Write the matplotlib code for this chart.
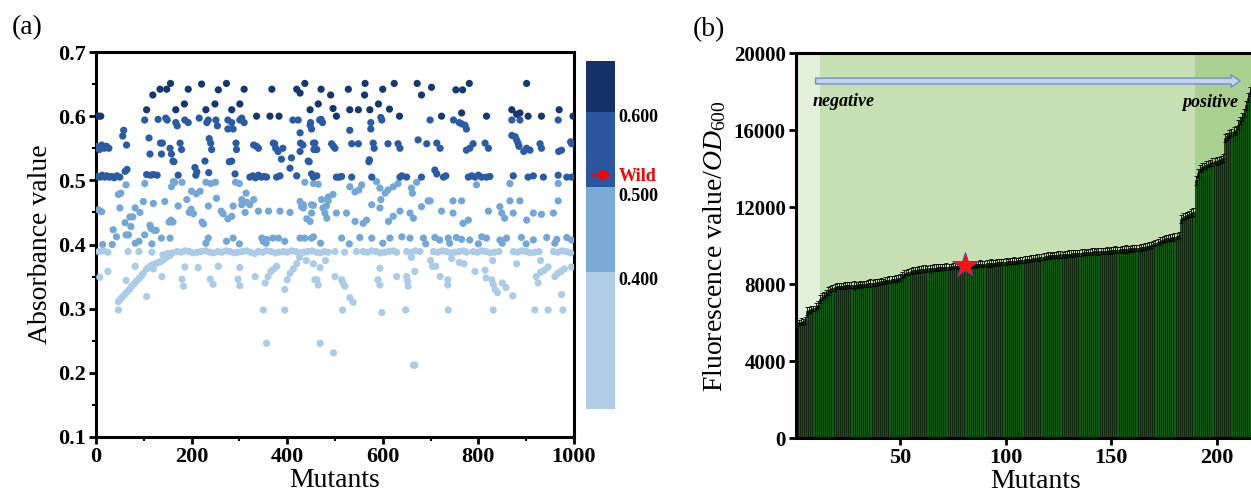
import matplotlib
matplotlib.use('Agg')
import matplotlib.pyplot as plt
from matplotlib.colors import ListedColormap, BoundaryNorm
from matplotlib.patches import FancyArrowPatch
from matplotlib.ticker import MultipleLocator

plt.rcParams['font.family'] = ['Liberation Serif', 'DejaVu Serif']
plt.rcParams['mathtext.fontset'] = 'custom'
plt.rcParams['mathtext.rm'] = 'Liberation Serif'
plt.rcParams['mathtext.it'] = 'Liberation Serif:italic'
plt.rcParams['mathtext.bf'] = 'Liberation Serif:bold'

# ---------------- Panel (a) data: (mutant index, absorbance) ----------------
dark_pts = [(5, .600), (10, .600), (106, .610), (119, .633), (134, .642), (148, .642), (156, .651),
            (167, .610), (185, .619), (193, .642), (221, .650), (230, .610), (249, .619), (256, .641),
            (273, .651), (284, .610), (301, .619), (310, .642), (336, .600), (364, .600), (368, .642),
            (383, .600), (420, .642), (437, .651), (427, .636), (448, .610), (465, .619), (471, .642),
            (491, .633), (496, .612), (503, .600), (528, .642), (531, .610), (549, .610), (563, .651),
            (562, .633), (573, .610), (591, .619), (600, .642), (614, .611), (624, .651), (635, .600),
            (672, .651), (681, .633), (702, .645), (723, .600), (753, .641), (767, .641), (781, .651),
            (765, .605), (817, .600), (870, .610), (880, .603), (887, .605), (901, .651), (904, .600),
            (932, .600), (969, .610), (998, .600)]

mid_pts = [(2, .553), (7, .548), (12, .555), (17, .550), (22, .553), (27, .550),
           (3, .506), (8, .505), (13, .508), (18, .505), (23, .507), (28, .505), (33, .506), (38, .504),
           (44, .507), (50, .505), (56, .569), (58, .578), (64, .555), (61, .514), (65, .517),
           (102, .594), (111, .566), (113, .541), (106, .509), (114, .508), (120, .509), (128, .508),
           (130, .595), (137, .541), (139, .558), (135, .558), (146, .597), (149, .594), (155, .550),
           (158, .541), (161, .530), (163, .529), (167, .590), (170, .585), (172, .508), (176, .558),
           (179, .548), (186, .594), (193, .590), (207, .520), (211, .513), (209, .508), (216, .597),
           (228, .530), (232, .590), (235, .594), (236, .512), (237, .565), (240, .558), (242, .548),
           (251, .594), (254, .585), (276, .594), (276, .580), (279, .529), (284, .530), (284, .590),
           (287, .580), (291, .510), (293, .558), (294, .548), (301, .594), (305, .597), (310, .590),
           (322, .505), (328, .507), (334, .504), (340, .508), (346, .505), (352, .506), (357, .505),
           (336, .553), (340, .550), (330, .555), (371, .558), (376, .550), (381, .545), (374, .557),
           (385, .507), (378, .505), (388, .533), (391, .550), (406, .519), (409, .535), (412, .594),
           (420, .507), (423, .594), (427, .545), (427, .574), (428, .558), (433, .555), (444, .530),
           (448, .586), (449, .590), (451, .580), (451, .510), (455, .505), (455, .558), (456, .548),
           (446, .529), (458, .558), (462, .507), (462, .548), (468, .594), (471, .595), (474, .590),
           (493, .557), (497, .553), (500, .550), (503, .505), (509, .505), (514, .506), (531, .578),
           (535, .505), (535, .557), (549, .557), (571, .529), (572, .532), (575, .590), (575, .580),
           (577, .505), (580, .558), (582, .550), (596, .598), (598, .594), (611, .557), (632, .557),
           (636, .550), (636, .505), (640, .507), (650, .505), (674, .563), (681, .505), (692, .557),
           (699, .594), (709, .516), (713, .510), (713, .558), (720, .550), (727, .505), (732, .507),
           (748, .594), (760, .590), (765, .588), (772, .586), (775, .580), (775, .547), (779, .505),
           (782, .550), (786, .507), (789, .557), (793, .505), (800, .508), (807, .505), (814, .558),
           (817, .505), (821, .550), (824, .506), (870, .594), (870, .570), (873, .507), (877, .568),
           (880, .563), (883, .558), (885, .553), (887, .594), (895, .545), (901, .550), (904, .505),
           (908, .547), (915, .507), (929, .557), (932, .550), (936, .505), (967, .594), (967, .508),
           (968, .545), (974, .547), (985, .505), (993, .560), (995, .557), (995, .505)]

midlight_pts = [(5, .454), (12, .451), (14, .400), (34, .400), (36, .423), (43, .412), (47, .478),
                (50, .457), (52, .480), (61, .434), (63, .415), (63, .493), (68, .415), (71, .443),
                (77, .443), (73, .428), (82, .457), (82, .402), (90, .405), (92, .450), (99, .467),
                (102, .495), (102, .415), (113, .430), (115, .425), (117, .401), (120, .464), (122, .422),
                (126, .422), (137, .410), (144, .467), (153, .435), (157, .438), (161, .435), (155, .410),
                (158, .490), (162, .498), (165, .497), (172, .460), (180, .497), (190, .470), (195, .450),
                (199, .455), (200, .483), (204, .448), (210, .479), (218, .483), (222, .435), (225, .432),
                (230, .497), (230, .402), (235, .460), (235, .410), (240, .495), (250, .497), (252, .472),
                (262, .452), (266, .448), (273, .405), (276, .440), (284, .444), (287, .410), (287, .460),
                (292, .497), (300, .495), (300, .401), (305, .470), (305, .462), (312, .450), (314, .480),
                (315, .466), (322, .462), (330, .470), (340, .452), (347, .410), (350, .405), (356, .402),
                (357, .408), (361, .452), (370, .410), (382, .410), (385, .452), (395, .405), (406, .450),
                (427, .467), (427, .410), (434, .462), (441, .440), (448, .436), (451, .462), (451, .410),
                (472, .470), (482, .460), (486, .474), (496, .478), (437, .497), (455, .495), (465, .494),
                (531, .490), (542, .482), (550, .485), (556, .493), (587, .498), (594, .488), (605, .480),
                (611, .485), (622, .490), (632, .495), (660, .488), (662, .480), (671, .497), (796, .493),
                (866, .495), (967, .495), (430, .459), (455, .461), (486, .468), (596, .470), (695, .468),
                (699, .468), (747, .468), (765, .468), (866, .468), (887, .468), (967, .468),
                (434, .457), (451, .449), (475, .457), (479, .449), (483, .441), (503, .449), (524, .449),
                (542, .436), (559, .433), (566, .438), (577, .462), (594, .457), (612, .436), (622, .444),
                (636, .452), (657, .449), (664, .441), (681, .459), (723, .452), (747, .449), (768, .433),
                (779, .438), (821, .452), (845, .459), (849, .449), (855, .441), (873, .449), (901, .438),
                (915, .449), (932, .447), (957, .449),
                (437, .410), (455, .412), (514, .410), (552, .411), (577, .410), (615, .410), (640, .412),
                (657, .410), (685, .410), (709, .411), (719, .407), (737, .410), (754, .411), (765, .408),
                (782, .407), (807, .412), (817, .410), (845, .407), (859, .410), (890, .411), (915, .407),
                (943, .411), (964, .408), (985, .411), (995, .407),
                (470, .402), (530, .401), (600, .402), (690, .401), (740, .402), (800, .401), (850, .402),
                (900, .401), (960, .402)]

light_row_x = [6, 16, 25, 67, 90, 117, 140, 150, 160, 170, 178, 186, 195, 203, 212, 220, 229, 238,
               246, 255, 263, 272, 280, 289, 297, 306, 315, 323, 332, 340, 349, 357, 366, 375, 383,
               392, 400, 409, 418, 426, 435, 443, 452, 461, 469, 478, 486, 500, 520, 545, 559, 568,
               577, 586, 595, 604, 613, 622, 629, 650, 659, 668, 678, 706, 715, 724, 733, 742, 751,
               760, 769, 775, 789, 798, 807, 816, 825, 834, 843, 873, 882, 891, 900, 909, 918, 927,
               957, 966, 975, 984, 993]
light_row_y = [.389, .390, .388, .389, .389, .388, .384, .386, .387, .389, .388, .390, .389, .387,
               .388, .389, .390, .388, .387, .389, .388, .390, .389, .387, .388, .389, .390, .388,
               .386, .389, .388, .390, .389, .387, .388, .389, .388, .390, .389, .387, .388, .389,
               .390, .388, .387, .389, .388, .389, .388, .389, .389, .388, .390, .389, .387, .388,
               .389, .390, .388, .389, .388, .390, .389, .389, .388, .390, .389, .387, .388, .389,
               .390, .388, .389, .388, .390, .389, .387, .388, .389, .389, .388, .390, .389, .387,
               .388, .389, .389, .388, .390, .389, .387]

light_pts = [(8, .349), (25, .358), (63, .344), (47, .311), (47, .298),
             (50, .314), (55, .318), (60, .322), (65, .326), (70, .330), (75, .335), (80, .339),
             (85, .343), (90, .347), (95, .351), (99, .355), (106, .362), (113, .366), (120, .369),
             (127, .371), (134, .373), (141, .376), (148, .380), (155, .383),
             (106, .319), (82, .366), (120, .362), (138, .350), (180, .346), (183, .335), (186, .365),
             (214, .364), (239, .346), (245, .338), (256, .366), (297, .346), (301, .336), (301, .364),
             (333, .350), (350, .298), (357, .246), (354, .340), (360, .350), (366, .358), (372, .362),
             (378, .366), (395, .298), (395, .330), (400, .345), (406, .355), (413, .362), (420, .370),
             (426, .380), (440, .375), (455, .370), (480, .375), (462, .345), (465, .337), (469, .246),
             (469, .364), (458, .345), (500, .350), (497, .231), (514, .345), (517, .340), (521, .335),
             (516, .298), (531, .317), (538, .310), (594, .363), (590, .345), (594, .337), (598, .294),
             (629, .350), (650, .350), (652, .343), (653, .335), (648, .298), (660, .380), (664, .212),
             (667, .212), (667, .358), (700, .375), (704, .366), (711, .366), (720, .350), (736, .345),
             (736, .337), (737, .298), (744, .378), (760, .372), (770, .370), (793, .358), (814, .360),
             (816, .348), (828, .345), (830, .375), (831, .338), (835, .330), (840, .325), (850, .340),
             (858, .333), (872, .320), (831, .298), (880, .370), (921, .350), (925, .340), (930, .357),
             (930, .375), (938, .360), (946, .365), (918, .298), (946, .298), (977, .298), (960, .350),
             (966, .355), (973, .358), (980, .362), (974, .322), (995, .365)]

level_bounds = [0.0, 0.4, 0.5, 0.6, 1.0]
level_colors = ['#abcbe6', '#74a7d5', '#2c5ba6', '#16386f']
cbar_colors = ['#b0cde7', '#7aabd7', '#2a56a0', '#143269']
cbar_labels = ['0.400', '0.500', '0.600']

# ---------------- Panel (b) data ----------------
fluor = [6000, 6020, 6050, 6080, 6120, 6600, 6650, 6700, 6750, 6850, 6950, 7250,
         7350, 7450, 7550, 7650, 7750, 7800, 7850, 7900, 7900, 7920, 7930, 7950,
         7950, 7960, 7960, 7970, 7980, 7990, 8000, 8010, 8020, 8030, 8050, 8060,
         8070, 8080, 8100, 8120, 8150, 8170, 8200, 8220, 8240, 8260, 8280, 8300,
         8320, 8350, 8500, 8550, 8600, 8650, 8700, 8720, 8740, 8760, 8780, 8800,
         8810, 8820, 8830, 8840, 8850, 8860, 8870, 8880, 8890, 8900, 8900, 8910,
         8920, 8930, 8940, 8950, 8960, 8970, 8980, 8990, 9000, 9000, 9010, 9020,
         9030, 9040, 9050, 9060, 9070, 9080, 9090, 9100, 9110, 9120, 9130, 9140,
         9150, 9160, 9170, 9180, 9190, 9200, 9210, 9220, 9230, 9240, 9260, 9280,
         9300, 9310, 9320, 9330, 9350, 9370, 9390, 9400, 9420, 9440, 9460, 9480,
         9500, 9510, 9520, 9530, 9540, 9550, 9560, 9570, 9580, 9590, 9600, 9610,
         9620, 9630, 9640, 9650, 9660, 9670, 9680, 9690, 9700, 9710, 9715, 9720,
         9725, 9730, 9740, 9750, 9760, 9770, 9780, 9790, 9800, 9810, 9820, 9830,
         9840, 9850, 9860, 9870, 9880, 9890, 9900, 9920, 9940, 9960, 9980, 10000,
         10050, 10100, 10150, 10200, 10250, 10300, 10350, 10380, 10400, 10420, 10440, 10460,
         10500, 10550, 11400, 11500, 11550, 11600, 11650, 11700, 11750, 13400, 13800, 14000,
         14100, 14150, 14200, 14250, 14300, 14350, 14400, 14420, 14450, 14500, 14550, 15600,
         15700, 15800, 15900, 15950, 16000, 16300, 16500, 16700, 16900, 17300, 17700, 18000]
fluor_err = [150, 120, 180, 140, 160, 200, 150, 170, 130, 190, 160, 210,
             180, 150, 170, 200, 160, 140, 190, 150, 170, 130, 160, 180,
             150, 170, 140, 190, 160, 150, 180, 130, 170, 150, 160, 190,
             140, 170, 150, 180, 160, 130, 170, 150, 190, 160, 140, 180,
             150, 170, 160, 190, 140, 170, 150, 180, 160, 130, 170, 150,
             190, 160, 140, 180, 150, 170, 160, 190, 140, 170, 150, 180,
             160, 130, 170, 150, 190, 160, 140, 180, 150, 170, 160, 190,
             140, 170, 150, 180, 160, 130, 170, 150, 190, 160, 140, 180,
             150, 170, 160, 190, 140, 170, 150, 180, 160, 130, 170, 150,
             190, 160, 140, 180, 150, 170, 160, 190, 140, 170, 150, 180,
             160, 130, 170, 150, 190, 160, 140, 180, 150, 170, 160, 190,
             140, 170, 150, 180, 160, 130, 170, 150, 190, 160, 140, 180,
             150, 170, 160, 190, 140, 170, 150, 180, 160, 130, 170, 150,
             190, 160, 140, 180, 150, 170, 160, 190, 140, 170, 150, 180,
             160, 130, 170, 150, 190, 160, 140, 180, 150, 170, 160, 190,
             140, 170, 200, 180, 160, 150, 170, 200, 190, 220, 200, 180,
             190, 170, 200, 180, 160, 190, 170, 200, 180, 190, 200, 210,
             180, 200, 190, 210, 200, 220, 190, 210, 200, 230, 220, 240]
wild_index = 81
wild_value = 9000
region_edges = [0.5, 12.1, 189.7, 216.5]
region_colors = ['#e2efda', '#c6e0b4', '#a9d08e']

# ---------------- Figure ----------------
fig = plt.figure(figsize=(12.51, 5), dpi=100)

axA = fig.add_axes([0.0767, 0.126, 0.3821, 0.770])
all_pts = light_pts + midlight_pts + mid_pts + dark_pts
xs = [p[0] for p in all_pts] + light_row_x
ys = [p[1] for p in all_pts] + light_row_y
cmap = ListedColormap(level_colors)
norm = BoundaryNorm(level_bounds, cmap.N)
axA.scatter(xs, ys, c=ys, cmap=cmap, norm=norm, s=27, linewidths=0, zorder=3)
axA.set_xlim(0, 1000)
axA.set_ylim(0.1, 0.7)
axA.set_xticks([0, 200, 400, 600, 800, 1000])
axA.set_xticklabels(['0', '200', '400', '600', '800', '1000'], fontweight='bold', fontsize=16)
axA.set_yticks([0.1, 0.2, 0.3, 0.4, 0.5, 0.6, 0.7])
axA.set_yticklabels(['0.1', '0.2', '0.3', '0.4', '0.5', '0.6', '0.7'], fontweight='bold', fontsize=16)
axA.xaxis.set_minor_locator(MultipleLocator(100))
axA.yaxis.set_minor_locator(MultipleLocator(0.05))
axA.tick_params(which='major', direction='out', length=5, width=2, pad=2)
axA.tick_params(which='minor', direction='out', length=3, width=1.5)
for s in axA.spines.values():
    s.set_linewidth(2.2)
axA.set_xlabel('Mutants', fontsize=20, labelpad=1)
axA.set_ylabel('Absorbance value', fontsize=20, labelpad=4)

# colour-level bar
axC = fig.add_axes([0.4684, 0.182, 0.0232, 0.6966])
cb_fracs = [0.0, 0.3925, 0.6383, 0.8536, 1.0]
for i, col in enumerate(cbar_colors):
    axC.axhspan(cb_fracs[i], cb_fracs[i + 1], color=col, lw=0)
axC.set_xlim(0, 1)
axC.set_ylim(0, 1)
axC.axis('off')
label_fracs = [0.370, 0.610, 0.838]
for lab, yf in zip(cbar_labels, label_fracs):
    axC.text(1.12, yf, lab, transform=axC.transAxes, fontsize=13, fontweight='bold',
             va='center', ha='left')
axC.annotate('', xy=(0.98, 0.672), xytext=(0.12, 0.672), xycoords='axes fraction',
             arrowprops=dict(arrowstyle='-|>,head_length=0.5,head_width=0.3', color='red', lw=2.2))
axC.text(1.12, 0.667, 'Wild', transform=axC.transAxes, fontsize=13, fontweight='bold',
         color='red', va='center', ha='left')

# panel (b)
axB = fig.add_axes([0.6359, 0.1234, 0.3645, 0.770])
for i, col in enumerate(region_colors):
    axB.axvspan(region_edges[i], region_edges[i + 1], color=col, lw=0, zorder=0)
bar_x = list(range(1, len(fluor) + 1))
axB.bar(bar_x, fluor, width=1.0, color='#0f5e14', edgecolor='black', linewidth=0.4,
        yerr=fluor_err, error_kw=dict(ecolor='black', elinewidth=0.6, capsize=1.5, capthick=0.6),
        zorder=2)
axB.plot([wild_index], [wild_value], marker='*', markersize=19, color='#ff1010',
         markeredgecolor='#6040a0', markeredgewidth=0.6, zorder=5)
axB.set_xlim(region_edges[0], region_edges[-1])
axB.set_ylim(0, 20000)
axB.set_xticks([50, 100, 150, 200])
axB.set_xticklabels(['50', '100', '150', '200'], fontweight='bold', fontsize=16)
axB.set_yticks([0, 4000, 8000, 12000, 16000, 20000])
axB.set_yticklabels(['0', '4000', '8000', '12000', '16000', '20000'], fontweight='bold', fontsize=15)
axB.tick_params(direction='out', length=5, width=2, pad=2)
for s in axB.spines.values():
    s.set_linewidth(2.2)
axB.spines['right'].set_visible(False)
axB.set_xlabel('Mutants', fontsize=20)
axB.xaxis.set_label_coords(0.527, -0.08)
axB.set_ylabel(r'Fluorescence value/$\mathit{OD}_{600}$', fontsize=20, labelpad=4)

arrow = FancyArrowPatch((8.7, 18560), (212.4, 18560),
                        arrowstyle='simple,head_length=0.65,head_width=0.9,tail_width=0.42',
                        mutation_scale=10, facecolor='#c4d3f0', edgecolor='#6d8fcf', lw=1.0, zorder=4)
axB.add_patch(arrow)
axB.text(8.8, 17500, 'negative', fontsize=13, fontweight='bold', fontstyle='italic',
         ha='left', va='center', zorder=4)
axB.text(210.2, 17450, 'positive', fontsize=13, fontweight='bold', fontstyle='italic',
         ha='right', va='center', zorder=4)

fig.text(0.0216, 0.944, '(a)', fontsize=20, ha='center', va='center')
fig.text(0.5664, 0.940, '(b)', fontsize=20, ha='center', va='center')

fig.savefig('out.png', dpi=100)
